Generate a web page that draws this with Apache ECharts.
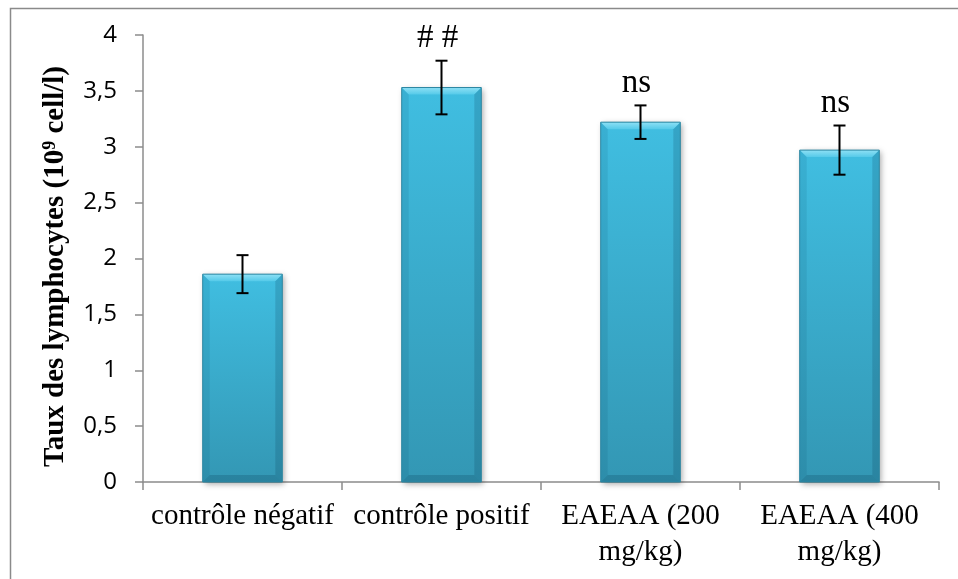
<!DOCTYPE html>
<html>
<head>
<meta charset="utf-8">
<script src="https://cdn.jsdelivr.net/npm/echarts@6/dist/echarts.min.js"></script>
<style>
html,body{margin:0;padding:0;background:#fff;}
#chart{width:958px;height:579px;}
</style>
</head>
<body>
<div id="chart"></div>
<script>
const categories = ['contrôle négatif', 'contrôle positif', 'EAEAA (200\nmg/kg)', 'EAEAA (400\nmg/kg)'];
const means = [1.86, 3.53, 3.22, 2.97];
const errors = [0.17, 0.24, 0.15, 0.22];
const annotations = ['', '# #', 'ns', 'ns'];
const yTicks = [0, 0.5, 1, 1.5, 2, 2.5, 3, 3.5, 4];
const yTitle = 'Taux des lymphocytes (10{sup|9} cell/l)';

const chart = echarts.init(document.getElementById('chart'), null, {renderer: 'canvas'});

const barData = means.map((v, i) => [i, v]);
const errData = means.map((v, i) => [i, v, errors[i]]);

function renderBar(params, api) {
  const i = api.value(0), v = api.value(1);
  const top = api.coord([i, v]);
  const base = api.coord([i, 0]);
  const w = api.size([1, 0])[0] * 0.4;
  const x0 = top[0] - w / 2, x1 = top[0] + w / 2;
  const y0 = top[1], y1 = base[1];
  const b = 7;
  return {
    type: 'group',
    children: [
      {type: 'rect', shape: {x: x0, y: y0, width: w, height: y1 - y0},
        style: {fill: new echarts.graphic.LinearGradient(0, 0, 0, 1, [
          {offset: 0, color: '#40bee1'}, {offset: 1, color: '#3397b4'}]),
          shadowBlur: 6, shadowColor: 'rgba(0,0,0,0.35)', shadowOffsetX: 2, shadowOffsetY: 2}},
      {type: 'polygon', shape: {points: [[x0, y0], [x1, y0], [x1 - b, y0 + b], [x0 + b, y0 + b]]},
        style: {fill: new echarts.graphic.LinearGradient(0, 0, 0, 1, [
          {offset: 0, color: '#8ee0f5'}, {offset: 1, color: '#55cae9'}])}},
      {type: 'polygon', shape: {points: [[x0, y0], [x0 + b, y0 + b], [x0 + b, y1 - b], [x0, y1]]},
        style: {fill: 'rgba(0,60,90,0.10)'}},
      {type: 'polygon', shape: {points: [[x1, y0], [x1 - b, y0 + b], [x1 - b, y1 - b], [x1, y1]]},
        style: {fill: 'rgba(0,40,60,0.16)'}},
      {type: 'polygon', shape: {points: [[x0, y1], [x0 + b, y1 - b], [x1 - b, y1 - b], [x1, y1]]},
        style: {fill: 'rgba(0,40,60,0.18)'}},
      {type: 'rect', shape: {x: x0, y: y0, width: w, height: y1 - y0},
        style: {fill: 'none', stroke: '#2d87a2', lineWidth: 1}}
    ]
  };
}

function renderErr(params, api) {
  const i = api.value(0), v = api.value(1), e = api.value(2);
  const label = annotations[params.dataIndex];
  const hi = api.coord([i, v + e]);
  const lo = api.coord([i, v - e]);
  const c = 6;
  const st = {stroke: '#000', lineWidth: 2};
  const children = [
    {type: 'line', shape: {x1: hi[0], y1: hi[1], x2: lo[0], y2: lo[1]}, style: st},
    {type: 'line', shape: {x1: hi[0] - c, y1: hi[1], x2: hi[0] + c, y2: hi[1]}, style: st},
    {type: 'line', shape: {x1: lo[0] - c, y1: lo[1], x2: lo[0] + c, y2: lo[1]}, style: st}
  ];
  if (label) {
    children.push({type: 'text', x: hi[0] - 4, y: hi[1] - 6,
      style: {text: label, fill: '#000', font: '33px "Liberation Serif", "Times New Roman", serif',
        align: 'center', verticalAlign: 'bottom'}});
  }
  return {type: 'group', children: children};
}

chart.setOption({
  backgroundColor: '#ffffff',
  animation: false,
  graphic: [{type: 'rect', left: 8, top: 6, shape: {width: 1000, height: 1000},
    style: {fill: 'none', stroke: '#8a8a8a', lineWidth: 1.5}, silent: true}],
  grid: {left: 143, right: 19, top: 35, bottom: 97},
  xAxis: {
    type: 'category',
    data: categories,
    axisLine: {lineStyle: {color: '#8c8c8c', width: 1.5}},
    axisTick: {show: true, length: 8, lineStyle: {color: '#8c8c8c', width: 1.5}},
    axisLabel: {interval: 0, margin: 16, lineHeight: 36,
      color: '#000', fontSize: 29, fontFamily: '"Liberation Serif", "Times New Roman", serif'}
  },
  yAxis: {
    type: 'value', min: 0, max: 4, interval: 0.5,
    splitLine: {show: false},
    axisLine: {show: true, lineStyle: {color: '#8c8c8c', width: 1.5}},
    axisTick: {show: true, length: 8, lineStyle: {color: '#8c8c8c', width: 1.5}},
    axisLabel: {margin: 26, color: '#000', fontSize: 24, fontFamily: '"Open Sans", sans-serif',
      formatter: v => yTicks.indexOf(v) >= 0 ? String(v).replace('.', ',') : ''},
    name: yTitle,
    nameLocation: 'middle',
    nameGap: 72,
    nameTextStyle: {color: '#000', fontSize: 29, fontWeight: 'bold', padding: [0, 16, 0, 0],
      fontFamily: '"Liberation Serif", "Times New Roman", serif',
      rich: {sup: {fontSize: 18, fontWeight: 'bold', verticalAlign: 'top',
        fontFamily: '"Liberation Serif", "Times New Roman", serif', padding: [0, 0, 12, 0]}}}
  },
  series: [
    {type: 'custom', name: 'bars', data: barData, renderItem: renderBar, z: 2},
    {type: 'custom', name: 'err', data: errData, renderItem: renderErr, z: 3}
  ]
});
</script>
</body>
</html>
